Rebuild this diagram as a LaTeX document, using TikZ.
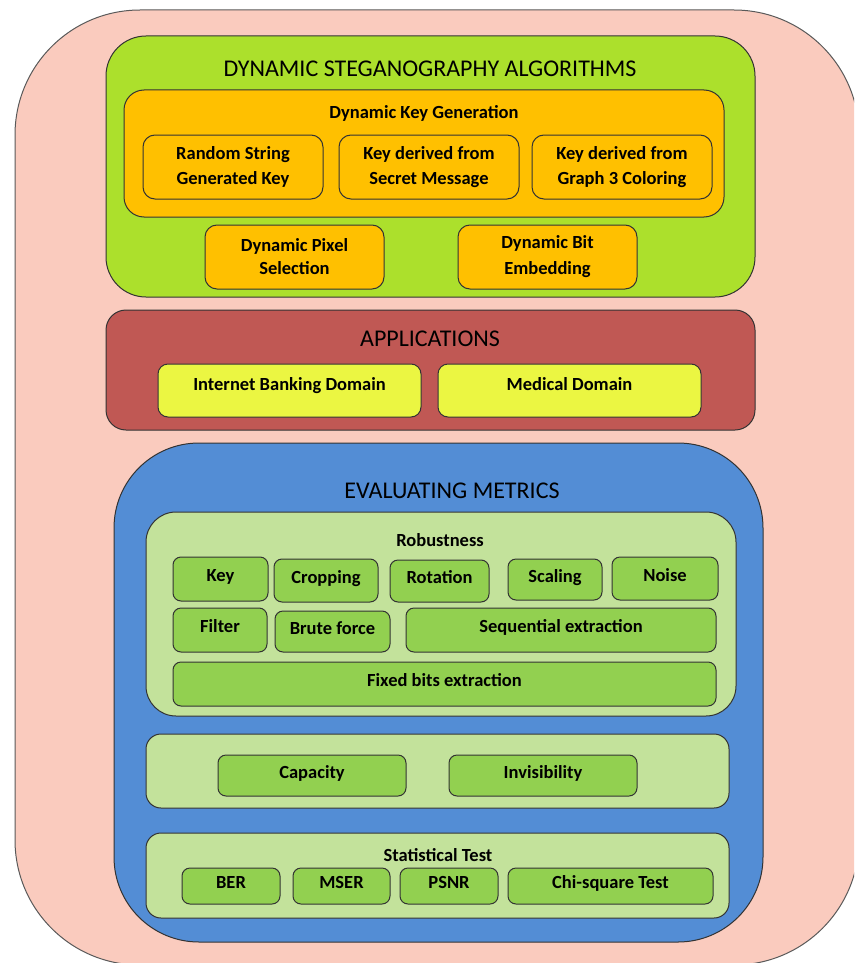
\documentclass[tikz,border=0pt]{standalone}
\usepackage{fontspec}
\setmainfont{Carlito}
\definecolor{frameC}{RGB}{250,203,190}
\definecolor{algoC}{RGB}{172,224,44}
\definecolor{orangeC}{RGB}{255,192,0}
\definecolor{appC}{RGB}{192,88,84}
\definecolor{yellowC}{RGB}{235,246,66}
\definecolor{evalC}{RGB}{83,141,213}
\definecolor{paleC}{RGB}{195,226,155}
\definecolor{leafC}{RGB}{146,208,80}
\begin{document}
\begin{tikzpicture}[x=1pt,y=-1pt,
  sz/.style 2 args={minimum width=#1pt,minimum height=#2pt},
  shell/.style={draw=black!80,line width=1pt,inner sep=0pt,rounded corners=#1},
  bigtitle/.style={font=\fontsize{24}{28}\selectfont,anchor=base,inner sep=0pt},
  subtitle/.style={font=\fontsize{18.5}{23}\selectfont\bfseries,anchor=base,inner sep=0pt},
  leaf/.style={shell=#1,font=\fontsize{18.5}{25}\selectfont\bfseries,align=center},
  oneline/.style={text height=0.644em,text depth=0.12em},
  highline/.style={text height=0.644em,text depth=0.65em}
]
\useasboundingbox (0,0) rectangle (854,963);
\clip (0,0) rectangle (854,963);

% outer frame
\node[draw=black!65,line width=1pt,fill=frameC,rounded corners=125,sz={844}{955}] (frame) at (437,487.5) {};

% ---- algorithms panel
\node[shell=40,fill=algoC,sz={649}{261}] (algo) at (430.5,166.5) {};
\node[bigtitle] (algoT) at (430,77) {DYNAMIC STEGANOGRAPHY ALGORITHMS};
\node[shell=20,fill=orangeC,sz={600}{127}] (keygen) at (424,153.5) {};
\node[subtitle] (keygenT) at (424,119) {Dynamic Key Generation};
\node[leaf=12,fill=orangeC,sz={180}{64}] (rs) at (233,167) {Random String\\Generated Key};
\node[leaf=12,fill=orangeC,sz={180}{64}] (ks) at (429,167) {Key derived from\\Secret Message};
\node[leaf=12,fill=orangeC,sz={180}{64}] (kg) at (622,167) {Key derived from\\Graph 3 Coloring};
\node[leaf=12,fill=orangeC,sz={179}{64},font=\fontsize{18.5}{23}\selectfont\bfseries] (dps) at (294.5,257) {Dynamic Pixel\\Selection};
\node[leaf=12,fill=orangeC,sz={179}{64},font=\fontsize{18.5}{26}\selectfont\bfseries] (dbe) at (547.5,257) {Dynamic Bit\\Embedding};

% ---- applications panel
\node[shell=20,fill=appC,sz={649}{120}] (app) at (430.5,370) {};
\node[bigtitle] (appT) at (430,346) {APPLICATIONS};
\node[leaf=10,fill=yellowC,sz={263}{53},highline] (bank) at (289.5,390.5) {Internet Banking Domain};
\node[leaf=10,fill=yellowC,sz={263}{53},highline] (med) at (569.5,390.5) {Medical Domain};

% ---- evaluating metrics panel
\node[shell=85,fill=evalC,sz={649}{499}] (eval) at (438.5,692.5) {};
\node[bigtitle] (evalT) at (452,498) {EVALUATING METRICS};

\node[shell=30,fill=paleC,sz={590}{204}] (rob) at (441,614) {};
\node[subtitle] (robT) at (440,546) {Robustness};
\node[leaf=8,fill=leafC,sz={95}{44},oneline] (key) at (220.5,579) {Key};
\node[leaf=8,fill=leafC,sz={104}{43},oneline] (crop) at (326,580.5) {Cropping};
\node[leaf=8,fill=leafC,sz={99}{42},oneline] (rot) at (439.5,581) {Rotation};
\node[leaf=8,fill=leafC,sz={94}{41},oneline] (scal) at (555,579.5) {Scaling};
\node[leaf=8,fill=leafC,sz={106}{43},oneline] (noise) at (665,578.5) {Noise};
\node[leaf=8,fill=leafC,sz={94}{44},oneline] (filt) at (220,630) {Filter};
\node[leaf=8,fill=leafC,sz={115}{41},oneline] (brute) at (332.5,631.5) {Brute force};
\node[leaf=8,fill=leafC,sz={310}{44},oneline] (seq) at (561,630) {Sequential extraction};
\node[leaf=8,fill=leafC,sz={543}{44},oneline] (fixed) at (444.5,684) {Fixed bits extraction};

\node[shell=15,fill=paleC,sz={583}{74}] (cap) at (437.5,771) {};
\node[leaf=8,fill=leafC,sz={188}{41},oneline] (capa) at (312,775.5) {Capacity};
\node[leaf=8,fill=leafC,sz={188}{41},oneline] (invis) at (543,775.5) {Invisibility};

\node[shell=15,fill=paleC,sz={583}{85}] (stat) at (437.5,875.5) {};
\node[subtitle] (statT) at (438,861) {Statistical Test};
\node[leaf=8,fill=leafC,sz={98}{36},oneline] (ber) at (231,886) {BER};
\node[leaf=8,fill=leafC,sz={97}{36},oneline] (mser) at (341.5,886) {MSER};
\node[leaf=8,fill=leafC,sz={98}{36},oneline] (psnr) at (449,886) {PSNR};
\node[leaf=8,fill=leafC,sz={205}{36},oneline] (chi) at (610.5,886) {Chi-square Test};
\end{tikzpicture}
\end{document}
